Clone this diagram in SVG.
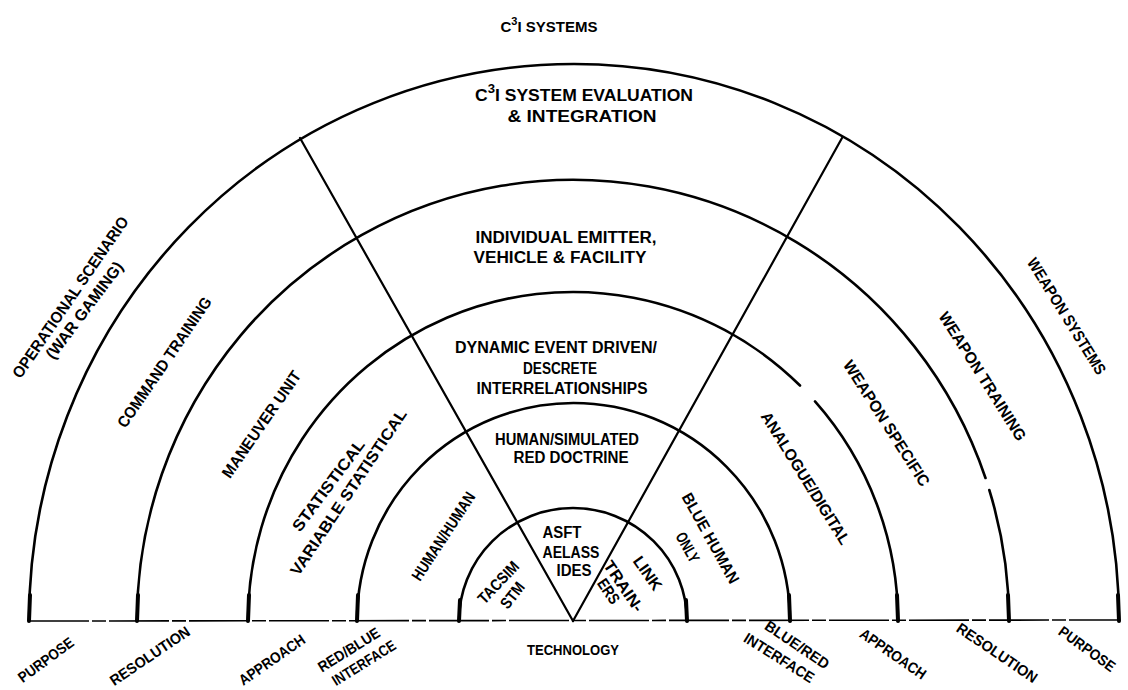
<svg xmlns="http://www.w3.org/2000/svg" width="1128" height="690" viewBox="0 0 1128 690">
<style>
.ring{fill:none;stroke:#000;stroke-width:2.6;stroke-linecap:round}
.rad{fill:none;stroke:#000;stroke-width:2.2;stroke-linecap:round}
.base{fill:none;stroke:#000;stroke-width:1.6;stroke-dasharray:60 3 14 3}
.end{stroke:#000;stroke-width:4;stroke-linecap:round}
text{font-family:"Liberation Sans",Arial,sans-serif;font-weight:bold;font-size:16px;fill:#000;text-anchor:middle}
.sm{font-size:15px}
</style>
<rect width="1128" height="690" fill="#fff"/>
<g id="connectors">
<line class="base" x1="29" y1="621" x2="1119" y2="620"/>
<path class="ring" d="M 29 621 A 545 557 0 0 1 1119 621"/>
<path class="ring" d="M 137 621 A 436 441 0 0 1 985.5 478"/>
<path class="ring" d="M 989.3 490 A 436 441 0 0 1 1009 621"/>
<path class="ring" d="M 248 621 A 325 329 0 0 1 800 385.5"/>
<path class="ring" d="M 815 401.4 A 325 329 0 0 1 898 621"/>
<path class="ring" d="M 357 621 A 216.5 218 0 0 1 790 621"/>
<path class="ring" d="M 459 621 A 114 113 0 0 1 687 621"/>
<line class="rad" x1="573" y1="621" x2="300" y2="138"/>
<line class="rad" x1="573" y1="621" x2="842" y2="138"/>
<line class="end" x1="30" y1="595" x2="29" y2="621"/>
<line class="end" x1="138" y1="595" x2="137" y2="621"/>
<line class="end" x1="249" y1="595" x2="248" y2="621"/>
<line class="end" x1="358" y1="595" x2="357" y2="621"/>
<line class="end" x1="460" y1="600" x2="459" y2="621"/>
<line class="end" x1="686" y1="600" x2="687" y2="621"/>
<line class="end" x1="789" y1="595" x2="790" y2="621"/>
<line class="end" x1="897" y1="595" x2="898" y2="621"/>
<line class="end" x1="1008" y1="595" x2="1009" y2="621"/>
<line class="end" x1="1118" y1="595" x2="1119" y2="621"/>
</g>
<g id="title"><text class="sm" x="549" y="32" textLength="97" lengthAdjust="spacingAndGlyphs">C<tspan dy="-7" font-size="11">3</tspan><tspan dy="7">I SYSTEMS</tspan></text></g>
<g id="c3i-eval"><text x="584" y="101" textLength="218" lengthAdjust="spacingAndGlyphs">C<tspan dy="-8" font-size="12">3</tspan><tspan dy="8">I SYSTEM EVALUATION</tspan></text>
<text x="582" y="122" textLength="149" lengthAdjust="spacingAndGlyphs">&amp; INTEGRATION</text></g>
<g id="individual"><text x="566" y="243" textLength="181" lengthAdjust="spacingAndGlyphs">INDIVIDUAL EMITTER,</text>
<text x="560" y="263" textLength="173" lengthAdjust="spacingAndGlyphs">VEHICLE &amp; FACILITY</text></g>
<g id="dynamic"><text x="556" y="353" textLength="202" lengthAdjust="spacingAndGlyphs">DYNAMIC EVENT DRIVEN/</text>
<text x="560" y="374" textLength="74" lengthAdjust="spacingAndGlyphs">DESCRETE</text>
<text x="562" y="394" textLength="171" lengthAdjust="spacingAndGlyphs">INTERRELATIONSHIPS</text></g>
<g id="human-sim"><text x="567" y="445" textLength="144" lengthAdjust="spacingAndGlyphs">HUMAN/SIMULATED</text>
<text x="571" y="463" textLength="115" lengthAdjust="spacingAndGlyphs">RED DOCTRINE</text></g>
<g id="asft"><text x="562" y="538" textLength="39" lengthAdjust="spacingAndGlyphs">ASFT</text>
<text x="571" y="558" textLength="57" lengthAdjust="spacingAndGlyphs">AELASS</text>
<text x="574" y="576" textLength="35" lengthAdjust="spacingAndGlyphs">IDES</text></g>
<g id="operational"><text transform="translate(70,297) rotate(-55.5)" y="6" textLength="192" lengthAdjust="spacingAndGlyphs">OPERATIONAL SCENARIO</text>
<text transform="translate(84,310) rotate(-53)" y="6" textLength="117" lengthAdjust="spacingAndGlyphs">(WAR GAMING)</text></g>
<g id="command"><text transform="translate(164,362) rotate(-55.7)" y="6" textLength="154" lengthAdjust="spacingAndGlyphs">COMMAND TRAINING</text></g>
<g id="maneuver"><text transform="translate(261,424) rotate(-55.2)" y="6" textLength="126" lengthAdjust="spacingAndGlyphs">MANEUVER UNIT</text></g>
<g id="statistical"><text transform="translate(328,485) rotate(-53.3)" y="6" textLength="110" lengthAdjust="spacingAndGlyphs">STATISTICAL</text>
<text transform="translate(348,492) rotate(-56.3)" y="6" textLength="196" lengthAdjust="spacingAndGlyphs">VARIABLE STATISTICAL</text></g>
<g id="human-human"><text transform="translate(443,536) rotate(-56.8)" y="6" textLength="102" lengthAdjust="spacingAndGlyphs">HUMAN/HUMAN</text></g>
<g id="tacsim"><text transform="translate(498,582) rotate(-46.5)" y="6" textLength="52" lengthAdjust="spacingAndGlyphs">TACSIM</text>
<text transform="translate(512,595) rotate(-51.6)" y="6" textLength="29" lengthAdjust="spacingAndGlyphs">STM</text></g>
<g id="link"><text transform="translate(648,573) rotate(55)" y="6" textLength="38" lengthAdjust="spacingAndGlyphs">LINK</text>
<text transform="translate(624,586) rotate(56)" y="6" textLength="58" lengthAdjust="spacingAndGlyphs">TRAIN-</text>
<text transform="translate(609,591) rotate(56)" y="6" textLength="27" lengthAdjust="spacingAndGlyphs">ERS</text></g>
<g id="blue-human"><text transform="translate(711,538) rotate(61)" y="6" textLength="101" lengthAdjust="spacingAndGlyphs">BLUE HUMAN</text>
<text transform="translate(688,547) rotate(61)" y="6" textLength="32" lengthAdjust="spacingAndGlyphs">ONLY</text></g>
<g id="analogue"><text transform="translate(806,478) rotate(58)" y="6" textLength="153" lengthAdjust="spacingAndGlyphs">ANALOGUE/DIGITAL</text></g>
<g id="weapon-specific"><text transform="translate(887,423) rotate(57.4)" y="6" textLength="146" lengthAdjust="spacingAndGlyphs">WEAPON SPECIFIC</text></g>
<g id="weapon-training"><text transform="translate(983,376) rotate(57.7)" y="6" textLength="149" lengthAdjust="spacingAndGlyphs">WEAPON TRAINING</text></g>
<g id="weapon-systems"><text transform="translate(1067,316) rotate(58)" y="6" textLength="134" lengthAdjust="spacingAndGlyphs">WEAPON SYSTEMS</text></g>
<g id="bottom-labels">
<text class="sm" transform="translate(46,660) rotate(-36.5)" y="5" textLength="65" lengthAdjust="spacingAndGlyphs">PURPOSE</text>
<text class="sm" transform="translate(150,656) rotate(-34)" y="5" textLength="93" lengthAdjust="spacingAndGlyphs">RESOLUTION</text>
<text class="sm" transform="translate(272,660) rotate(-34.7)" y="5" textLength="77" lengthAdjust="spacingAndGlyphs">APPROACH</text>
<text class="sm" transform="translate(349,650) rotate(-32)" y="5" textLength="70" lengthAdjust="spacingAndGlyphs">RED/BLUE</text>
<text class="sm" transform="translate(364,663) rotate(-32)" y="5" textLength="72" lengthAdjust="spacingAndGlyphs">INTERFACE</text>
<text class="sm" x="573" y="655" textLength="92" lengthAdjust="spacingAndGlyphs">TECHNOLOGY</text>
<text class="sm" transform="translate(797,645) rotate(34)" y="5" textLength="74" lengthAdjust="spacingAndGlyphs">BLUE/RED</text>
<text class="sm" transform="translate(779,658) rotate(32)" y="5" textLength="80" lengthAdjust="spacingAndGlyphs">INTERFACE</text>
<text class="sm" transform="translate(893,654) rotate(34.7)" y="5" textLength="77" lengthAdjust="spacingAndGlyphs">APPROACH</text>
<text class="sm" transform="translate(997,653) rotate(34)" y="5" textLength="94" lengthAdjust="spacingAndGlyphs">RESOLUTION</text>
<text class="sm" transform="translate(1087,649) rotate(36)" y="5" textLength="66" lengthAdjust="spacingAndGlyphs">PURPOSE</text>
</g>
</svg>
